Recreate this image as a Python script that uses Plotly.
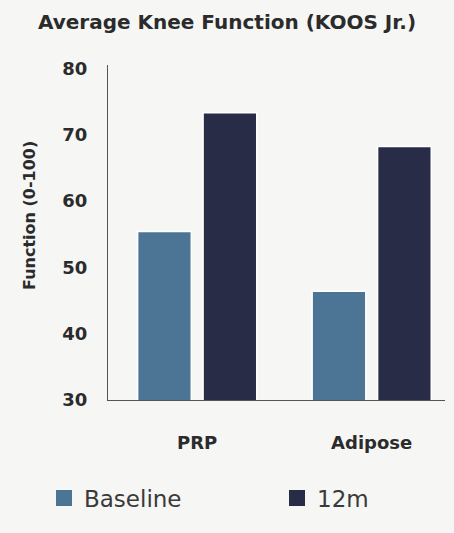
import plotly.graph_objects as go

categories = ["PRP", "Adipose"]
baseline = [55.4, 46.4]
month12 = [73.3, 68.2]
series_names = ["Baseline", "12m"]
colors = ["#4c7595", "#292c47"]
y_ticks = [30, 40, 50, 60, 70, 80]

BOLD = "DejaVu Sans"
fig = go.Figure()
for vals, name, col in zip([baseline, month12], series_names, colors):
    fig.add_trace(go.Bar(x=categories, y=vals, name=name, showlegend=False,
                         marker=dict(color=col, line=dict(color="white", width=1.5))))
# legend entries (larger square swatches)
for name, col, leg in zip(series_names, colors, ["legend", "legend2"]):
    fig.add_trace(go.Scatter(x=[None], y=[None], mode="markers", name=name, legend=leg,
                             marker=dict(symbol="square", size=16, color=col,
                                         line=dict(width=0))))

leg_common = dict(orientation="h", yanchor="middle", y=-0.2925, xanchor="left",
                  font=dict(family="DejaVu Sans", size=23, color="#3a3a3a"),
                  bgcolor="rgba(0,0,0,0)", borderwidth=0, itemsizing="trace")

fig.update_layout(
    width=454, height=533,
    margin=dict(l=108, r=9, t=65, b=133),
    paper_bgcolor="#f6f6f5", plot_bgcolor="#f6f6f5",
    barmode="group", bargap=0.25, bargroupgap=0.18,
    title=dict(text="<b>Average Knee Function (KOOS Jr.)</b>", x=0.5, xanchor="center",
               y=1 - 22 / 533, yanchor="middle",
               font=dict(family=BOLD, size=20, color="#2b2b2b")),
    font=dict(family=BOLD, color="#2b2b2b"),
    showlegend=True,
    legend=dict(x=(44 - 108) / 337, **leg_common),
    legend2=dict(x=(277 - 108) / 337, **leg_common),
    annotations=[dict(text="<b>Function (0-100)</b>", textangle=-90,
                      xref="paper", yref="paper", x=(29 - 108) / 337, y=(400 - 216) / 335,
                      xanchor="center", yanchor="middle", showarrow=False,
                      font=dict(family=BOLD, size=16, color="#2b2b2b"))],
)
fig.update_xaxes(range=[-0.511, 1.42], showline=True, linecolor="#555", linewidth=1,
                 showgrid=False, ticks="", ticklabelstandoff=26,
                 tickfont=dict(family=BOLD, size=18, color="#2b2b2b"),
                 tickvals=categories, ticktext=[f"<b>{c}</b>" for c in categories])
fig.update_yaxes(range=[30, 80.5], showline=True, linecolor="#555", linewidth=1,
                 showgrid=False, zeroline=False, ticks="", ticklabelstandoff=16,
                 tickvals=y_ticks, ticktext=[f"<b>{v}</b>" for v in y_ticks],
                 tickfont=dict(family=BOLD, size=18, color="#2b2b2b"))
fig.write_html("out.html")
